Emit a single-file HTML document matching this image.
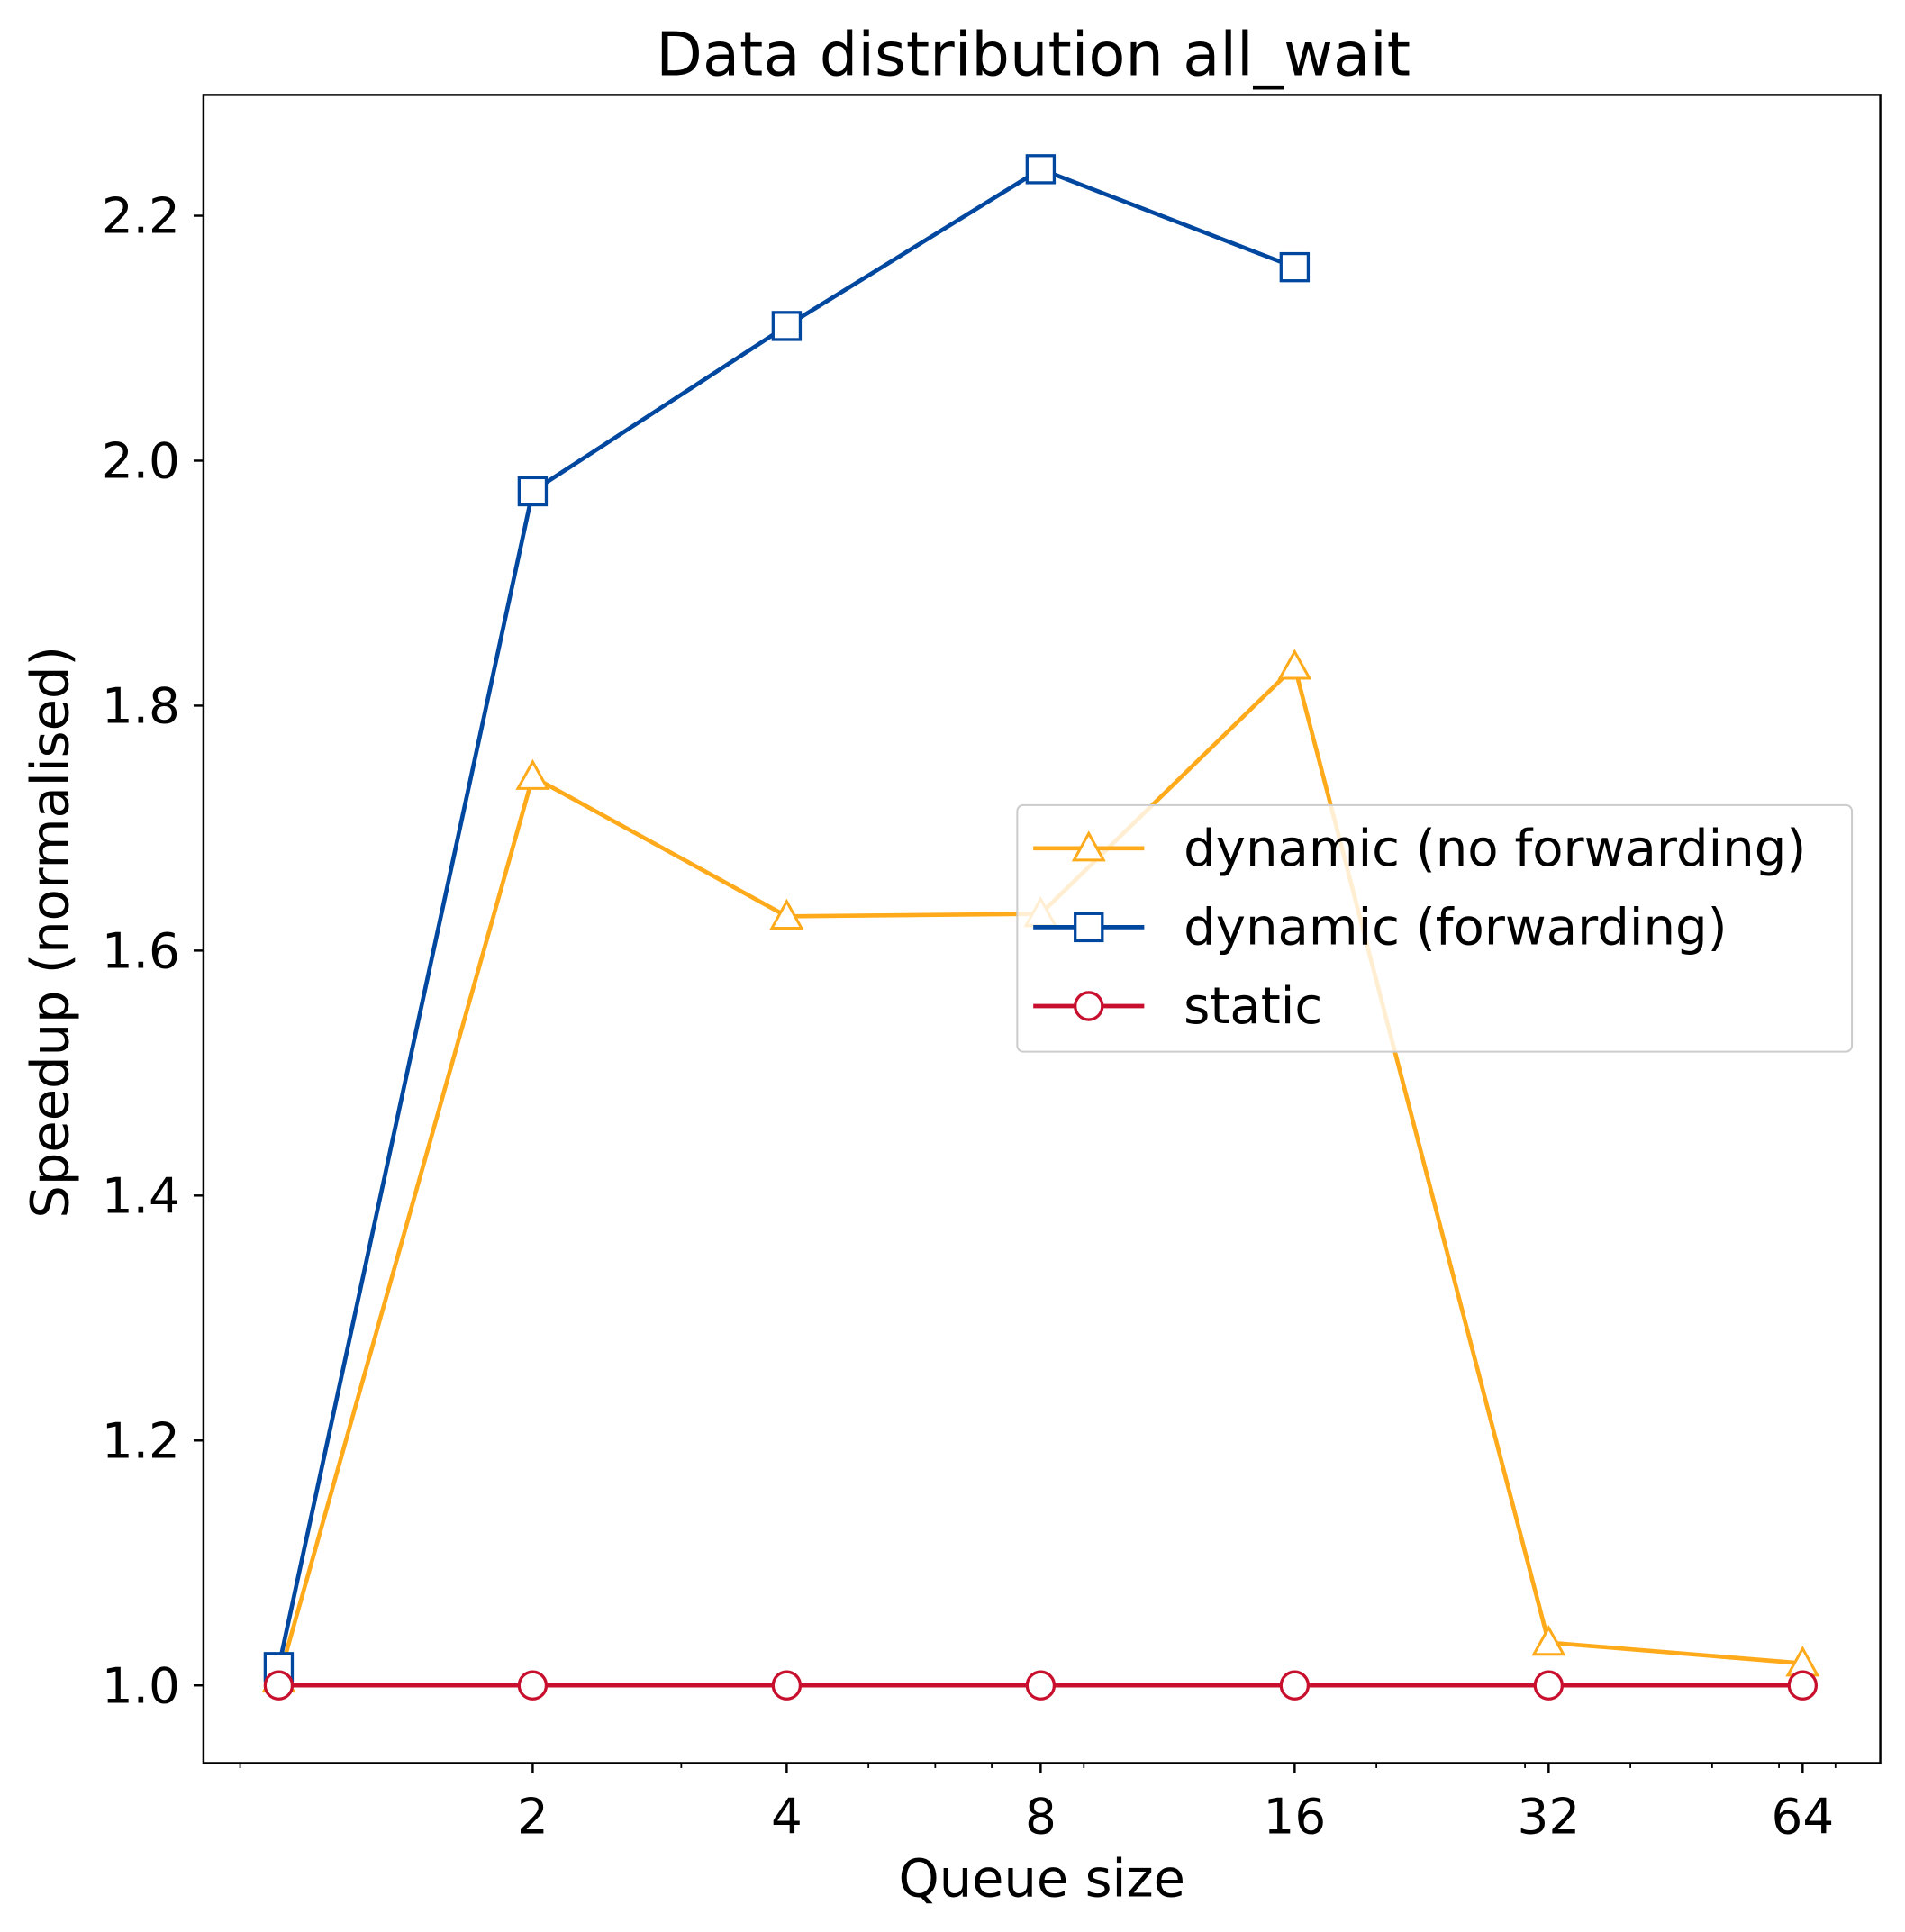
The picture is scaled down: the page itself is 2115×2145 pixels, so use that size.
<!DOCTYPE html>
<html><head><meta charset="utf-8"><style>body{margin:0;background:#fff}svg{display:block}text{font-family:"DejaVu Sans","Liberation Sans",sans-serif}</style></head>
<body>
<svg id="chart" width="2115" height="2145" viewBox="0 0 1545 1567" xmlns="http://www.w3.org/2000/svg">
<rect width="1545" height="1567" fill="#fff"/>
<text x="838" y="61" font-size="49" text-anchor="middle">Data distribution all_wait</text>
<g id="ticks"></g>
<g id="series"></g>
<rect x="165" y="77" width="1360" height="1353" fill="none" stroke="#000" stroke-width="1.8"/>
<text x="845" y="1538" font-size="42" text-anchor="middle">Queue size</text>
<text x="0" y="0" font-size="42" text-anchor="middle" transform="translate(55,756) rotate(-90)">Speedup (normalised)</text>
<g id="legend"></g>
</svg>
<script>
const xValues=[1,2,4,8,16,32,64];
const noFwd=[1.005,1.742,1.628,1.630,1.832,1.035,1.018];
const fwdX=[1,2,4,8,16];
const fwd=[1.015,1.975,2.110,2.238,2.158];
const staticVals=[1,1,1,1,1,1,1];
const xTickLabels=[2,4,8,16,32,64];
const xMinor=[0.9,3,5,6,7,9,20,30,40,50,60,70];
const yTicks=[1.0,1.2,1.4,1.6,1.8,2.0,2.2];
const NS='http://www.w3.org/2000/svg';
const X=v=>226+206*Math.log2(v);
const Y=v=>1367-(v-1)/0.2*198.67;
function mk(tag,attrs,parent){const e=document.createElementNS(NS,tag);for(const k in attrs)e.setAttribute(k,attrs[k]);parent.appendChild(e);return e;}
const ticks=document.getElementById('ticks');
yTicks.forEach(v=>{
 const l=mk('line',{x1:157,x2:165,y1:Y(v),y2:Y(v),stroke:'#000','stroke-width':1.8},ticks);
 
 
 const t=mk('text',{x:146,y:Y(v)+14,'font-size':40,'text-anchor':'end'},ticks);
 t.textContent=v.toFixed(1);
 
 
});
xTickLabels.forEach(v=>{
 const l=mk('line',{x1:X(v),x2:X(v),y1:1430,y2:1438,stroke:'#000','stroke-width':1.8},ticks);
 
 
 const t=mk('text',{x:X(v),y:1487,'font-size':40,'text-anchor':'middle'},ticks);
 t.textContent=v;
 
 
});
xMinor.forEach(v=>{
 const l=mk('line',{x1:X(v),x2:X(v),y1:1430,y2:1434,stroke:'#000','stroke-width':1.3},ticks);
 
 
});
const series=document.getElementById('series');
function marker(type,x,y,color,parent){
 let e;
 if(type==='tri'){const s=12;e=mk('polygon',{points:`${x},${y-s} ${x-s},${y+s*0.8} ${x+s},${y+s*0.8}`,fill:'#fff',stroke:color,'stroke-width':2.2},parent);}
 else if(type==='sq'){e=mk('rect',{x:x-11,y:y-11,width:22,height:22,fill:'#fff',stroke:color,'stroke-width':2.4},parent);}
 else {e=mk('circle',{cx:x,cy:y,r:11,fill:'#fff',stroke:color,'stroke-width':2.4},parent);}
 return e;
}
function drawSeries(name,xs,ys,color,type){
 const g=mk('g',{},series);
 
 
 const p=mk('polyline',{points:xs.map((x,i)=>X(x)+','+Y(ys[i])).join(' '),fill:'none',stroke:color,'stroke-width':3.4},g);
 
 
 xs.forEach((x,i)=>{const m=marker(type,X(x),Y(ys[i]),color,g);
  
  });
}
drawSeries('dynamic-no-forwarding',xValues,noFwd,'#FFAA1A','tri');
drawSeries('dynamic-forwarding',fwdX,fwd,'#0047A0','sq');
drawSeries('static',xValues,staticVals,'#C8102E','circ');
const lg=document.getElementById('legend');
const box=mk('rect',{x:825,y:653,width:677,height:200,rx:5,fill:'#fff','fill-opacity':0.8,stroke:'#ccc','stroke-width':1.5},lg);


[['dynamic (no forwarding)','#FFAA1A','tri',688],['dynamic (forwarding)','#0047A0','sq',752],['static','#C8102E','circ',816]].forEach(([lab,c,t,y])=>{
 const g=mk('g',{},lg);
 
 
 mk('line',{x1:838,x2:928,y1:y,y2:y,stroke:c,'stroke-width':3.4},g);
 marker(t,883,y,c,g);
 const tx=mk('text',{x:960,y:y+14,'font-size':41},g);
 tx.textContent=lab;
});
</script>
</body></html>
